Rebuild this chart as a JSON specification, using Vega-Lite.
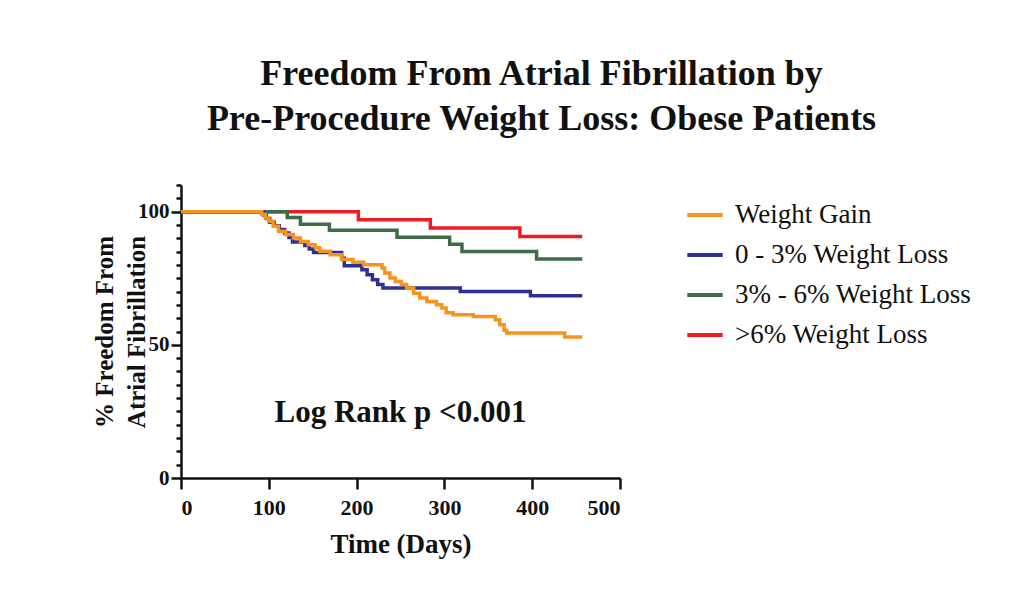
{
  "$schema": "https://vega.github.io/schema/vega-lite/v6.json",
  "width": 439,
  "height": 293,
  "autosize": {"type": "none"},
  "padding": {"left": 181, "top": 185, "right": 402, "bottom": 125},
  "background": "white",
  "config": {
    "view": {"stroke": null},
    "font": "Liberation Serif",
    "axis": {
      "domainColor": "#111",
      "domainWidth": 2.5,
      "tickColor": "#111",
      "tickWidth": 2.5,
      "grid": false,
      "labelFont": "Liberation Serif",
      "labelFontWeight": "bold",
      "labelFontSize": 21,
      "labelColor": "#111",
      "titleFont": "Liberation Serif",
      "titleFontWeight": "bold",
      "titleColor": "#111"
    },
    "legend": {
      "labelFont": "Liberation Serif",
      "labelFontWeight": "normal"
    }
  },
  "title": {
    "text": ["Freedom From Atrial Fibrillation by", "Pre-Procedure Weight Loss: Obese Patients"],
    "font": "Liberation Serif",
    "fontSize": 36,
    "fontWeight": "bold",
    "color": "#111",
    "anchor": "middle",
    "dx": 141,
    "offset": 36,
    "lineHeight": 45
  },
  "datasets": {
    "km": [
      {"group": ">6% Weight Loss", "day": 0, "pct": 100},
      {"group": ">6% Weight Loss", "day": 202, "pct": 97.0},
      {"group": ">6% Weight Loss", "day": 284, "pct": 93.9},
      {"group": ">6% Weight Loss", "day": 386, "pct": 90.7},
      {"group": ">6% Weight Loss", "day": 457, "pct": 90.7},

      {"group": "3% - 6% Weight Loss", "day": 0, "pct": 100},
      {"group": "3% - 6% Weight Loss", "day": 121, "pct": 97.8},
      {"group": "3% - 6% Weight Loss", "day": 136, "pct": 95.3},
      {"group": "3% - 6% Weight Loss", "day": 169, "pct": 93.0},
      {"group": "3% - 6% Weight Loss", "day": 246, "pct": 90.4},
      {"group": "3% - 6% Weight Loss", "day": 306, "pct": 87.8},
      {"group": "3% - 6% Weight Loss", "day": 320, "pct": 85.0},
      {"group": "3% - 6% Weight Loss", "day": 405, "pct": 82.2},
      {"group": "3% - 6% Weight Loss", "day": 457, "pct": 82.2},

      {"group": "0 - 3% Weight Loss", "day": 0, "pct": 100},
      {"group": "0 - 3% Weight Loss", "day": 94, "pct": 98.7},
      {"group": "0 - 3% Weight Loss", "day": 97, "pct": 97.4},
      {"group": "0 - 3% Weight Loss", "day": 101, "pct": 96.0},
      {"group": "0 - 3% Weight Loss", "day": 106, "pct": 94.7},
      {"group": "0 - 3% Weight Loss", "day": 112, "pct": 93.3},
      {"group": "0 - 3% Weight Loss", "day": 118, "pct": 92.0},
      {"group": "0 - 3% Weight Loss", "day": 123, "pct": 90.3},
      {"group": "0 - 3% Weight Loss", "day": 127, "pct": 88.6},
      {"group": "0 - 3% Weight Loss", "day": 141, "pct": 87.3},
      {"group": "0 - 3% Weight Loss", "day": 146, "pct": 86.0},
      {"group": "0 - 3% Weight Loss", "day": 151, "pct": 84.7},
      {"group": "0 - 3% Weight Loss", "day": 183, "pct": 82.5},
      {"group": "0 - 3% Weight Loss", "day": 186, "pct": 79.7},
      {"group": "0 - 3% Weight Loss", "day": 206, "pct": 78.2},
      {"group": "0 - 3% Weight Loss", "day": 212, "pct": 76.3},
      {"group": "0 - 3% Weight Loss", "day": 218, "pct": 74.4},
      {"group": "0 - 3% Weight Loss", "day": 224, "pct": 72.6},
      {"group": "0 - 3% Weight Loss", "day": 230, "pct": 71.3},
      {"group": "0 - 3% Weight Loss", "day": 318, "pct": 70.0},
      {"group": "0 - 3% Weight Loss", "day": 398, "pct": 68.4},
      {"group": "0 - 3% Weight Loss", "day": 457, "pct": 68.4},

      {"group": "Weight Gain", "day": 0, "pct": 100},
      {"group": "Weight Gain", "day": 92, "pct": 98.9},
      {"group": "Weight Gain", "day": 96, "pct": 97.6},
      {"group": "Weight Gain", "day": 100, "pct": 96.4},
      {"group": "Weight Gain", "day": 105, "pct": 94.5},
      {"group": "Weight Gain", "day": 111, "pct": 92.6},
      {"group": "Weight Gain", "day": 119, "pct": 91.4},
      {"group": "Weight Gain", "day": 128, "pct": 90.1},
      {"group": "Weight Gain", "day": 136, "pct": 88.8},
      {"group": "Weight Gain", "day": 145, "pct": 87.6},
      {"group": "Weight Gain", "day": 153, "pct": 86.4},
      {"group": "Weight Gain", "day": 158, "pct": 85.1},
      {"group": "Weight Gain", "day": 170, "pct": 83.8},
      {"group": "Weight Gain", "day": 183, "pct": 82.0},
      {"group": "Weight Gain", "day": 196, "pct": 81.0},
      {"group": "Weight Gain", "day": 208, "pct": 80.1},
      {"group": "Weight Gain", "day": 229, "pct": 78.8},
      {"group": "Weight Gain", "day": 232, "pct": 77.0},
      {"group": "Weight Gain", "day": 238, "pct": 75.1},
      {"group": "Weight Gain", "day": 244, "pct": 73.8},
      {"group": "Weight Gain", "day": 251, "pct": 72.6},
      {"group": "Weight Gain", "day": 257, "pct": 71.3},
      {"group": "Weight Gain", "day": 265, "pct": 69.4},
      {"group": "Weight Gain", "day": 272, "pct": 67.6},
      {"group": "Weight Gain", "day": 280, "pct": 66.3},
      {"group": "Weight Gain", "day": 291, "pct": 65.0},
      {"group": "Weight Gain", "day": 297, "pct": 63.8},
      {"group": "Weight Gain", "day": 302, "pct": 62.0},
      {"group": "Weight Gain", "day": 310, "pct": 61.3},
      {"group": "Weight Gain", "day": 333, "pct": 60.6},
      {"group": "Weight Gain", "day": 358, "pct": 59.4},
      {"group": "Weight Gain", "day": 363, "pct": 57.5},
      {"group": "Weight Gain", "day": 368, "pct": 55.5},
      {"group": "Weight Gain", "day": 371, "pct": 54.4},
      {"group": "Weight Gain", "day": 437, "pct": 52.9},
      {"group": "Weight Gain", "day": 457, "pct": 52.9}
    ],
    "note": [
      {"label": "Log Rank p <0.001", "day": 250, "pct": 24.5}
    ]
  },
  "encoding": {
    "x": {
      "field": "day",
      "type": "quantitative",
      "scale": {"domain": [0, 500], "nice": false},
      "axis": {
        "values": [0, 100, 200, 300, 400, 500],
        "tickSize": 11,
        "labelPadding": 8,
        "labelFontSize": 22,
        "title": "Time (Days)",
        "titleFontSize": 27,
        "titlePadding": 13
      }
    },
    "y": {
      "field": "pct",
      "type": "quantitative",
      "scale": {"domain": [0, 110], "nice": false},
      "axis": {
        "values": [0, 5, 10, 15, 20, 25, 30, 35, 40, 45, 50, 55, 60, 65, 70, 75, 80, 85, 90, 95, 100, 105, 110],
        "labelExpr": "datum.value % 50 === 0 ? datum.label : ''",
        "labelOverlap": false,
        "tickSize": {"condition": {"test": "datum.value % 50 === 0", "value": 10}, "value": 5},
        "labelPadding": 2,
        "title": ["% Freedom From", "Atrial Fibrillation"],
        "titleFontSize": 25,
        "titleLineHeight": 32,
        "titlePadding": -12
      }
    },
    "color": {
      "field": "group",
      "type": "nominal",
      "scale": {
        "domain": ["Weight Gain", "0 - 3% Weight Loss", "3% - 6% Weight Loss", ">6% Weight Loss"],
        "range": ["#f7941d", "#2e3192", "#3e6b48", "#ed1c24"]
      },
      "legend": {
        "title": null,
        "orient": "none",
        "legendX": 504,
        "legendY": 10,
        "symbolType": "stroke",
        "symbolSize": 1250,
        "symbolStrokeWidth": 4,
        "labelFont": "Liberation Serif",
        "labelFontSize": 27,
        "labelColor": "#111",
        "labelLimit": 400,
        "labelOffset": 10,
        "rowPadding": 7
      }
    }
  },
  "layer": [
    {
      "data": {"name": "km"},
      "transform": [{"filter": "datum.group === '>6% Weight Loss'"}],
      "mark": {"type": "line", "interpolate": "step-after", "strokeWidth": 3.5}
    },
    {
      "data": {"name": "km"},
      "transform": [{"filter": "datum.group === '3% - 6% Weight Loss'"}],
      "mark": {"type": "line", "interpolate": "step-after", "strokeWidth": 3.5}
    },
    {
      "data": {"name": "km"},
      "transform": [{"filter": "datum.group === '0 - 3% Weight Loss'"}],
      "mark": {"type": "line", "interpolate": "step-after", "strokeWidth": 3.5}
    },
    {
      "data": {"name": "km"},
      "transform": [{"filter": "datum.group === 'Weight Gain'"}],
      "mark": {"type": "line", "interpolate": "step-after", "strokeWidth": 3.5}
    },
    {
      "data": {"name": "note"},
      "mark": {"type": "text", "font": "Liberation Serif", "fontWeight": "bold", "fontSize": 31},
      "encoding": {
        "color": {"value": "#111"},
        "text": {"field": "label"}
      }
    }
  ]
}
